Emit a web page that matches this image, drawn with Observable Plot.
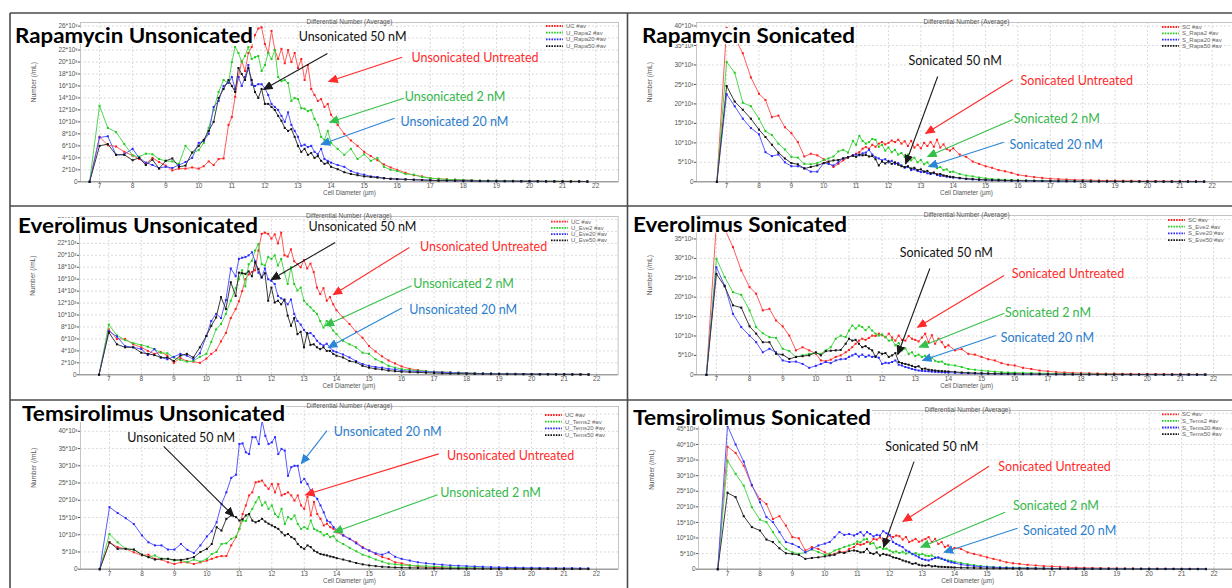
<!DOCTYPE html>
<html><head><meta charset="utf-8">
<script src="https://cdn.jsdelivr.net/npm/d3@7"></script>
<script src="https://cdn.jsdelivr.net/npm/@observablehq/plot@0.6"></script>
<style>
html,body{margin:0;padding:0;background:#fff;}
#page{position:relative;width:1232px;height:588px;overflow:hidden;background:#fff;}
</style></head><body><div id="page"></div>
<script>
// ---------- shared x grid: cell diameter (µm) ----------
const diameters = [
  6.7, 7, 7.25, 7.5, 7.75, 8, 8.2, 8.4, 8.6, 8.8, 9, 9.2, 9.4, 9.6, 9.8,
  10, 10.15, 10.3, 10.45, 10.6, 10.75, 10.9,
  11, 11.1, 11.2, 11.3, 11.4, 11.5, 11.6, 11.7, 11.8, 11.9,
  12, 12.1, 12.2, 12.3, 12.4, 12.5, 12.6, 12.7, 12.8, 12.9,
  13, 13.1, 13.2, 13.3, 13.4, 13.5, 13.6, 13.7, 13.8, 13.9, 14,
  14.2, 14.4, 14.6, 14.8, 15, 15.2, 15.4, 15.6, 15.8, 16,
  16.25, 16.5, 16.75, 17, 17.25, 17.5, 17.75, 18, 18.25, 18.5, 18.75, 19, 19.25, 19.5, 19.75, 20, 20.25, 20.5, 20.75, 21, 21.25, 21.5, 21.75
];

// ---------- tick values ----------
const xTicks = [7, 8, 9, 10, 11, 12, 13, 14, 15, 16, 17, 18, 19, 20, 21, 22];
const yTicks26 = [0, 2, 4, 6, 8, 10, 12, 14, 16, 18, 20, 22, 24, 26];
const yTicks40 = [0, 5, 10, 15, 20, 25, 30, 35, 40];
const yTicks45 = [0, 5, 10, 15, 20, 25, 30, 35, 40, 45];
const yTicks50 = [0, 5, 10, 15, 20, 25, 30, 35, 40, 45, 50];

// ---------- series values (Number / mL, in thousands) ----------
// Rapamycin Unsonicated
const uRapaUC = [
  0, 7.5, 6.1, 5.9, 5.0, 4.4, 3.8, 3.0, 4.0, 3.3, 2.7, 1.9, 2.2, 2.2, 2.4,
  2.2, 2.6, 3.4, 2.8, 3.8, 3.9, 9.5,
  10.8, 14.2, 17.5, 20.2, 18.5, 21.5, 22.5, 24.5, 25.6, 25.8,
  23.0, 21.5, 25.2, 22.0, 20.5, 22.2, 19.8, 22.0, 20.0, 21.5,
  19.0, 20.5, 17.0, 19.5, 15.5, 14.5, 13.5, 13.8, 12.5, 13.0, 11.2,
  9.5, 8.0, 6.9, 6.0, 5.0, 4.3, 3.6, 2.9, 2.4, 2.0,
  1.5, 1.1, 0.9, 0.6, 0.5, 0.4, 0.35, 0.3, 0.25, 0.2, 0.2, 0.18, 0.15, 0.15, 0.12, 0.12, 0.1, 0.1, 0.1, 0.08, 0.08, 0.08, 0.05
];
const uRapa2 = [
  0, 12.7, 9.0, 8.3, 6.3, 4.4, 4.2, 4.7, 4.6, 3.8, 3.5, 3.4, 3.0, 6.0, 4.8,
  5.3, 6.5, 9.0, 12.0, 15.0, 17.0, 16.5,
  20.0, 22.5, 21.5, 20.0, 21.0, 22.5, 20.5, 20.8, 21.0, 18.5,
  19.5, 21.5, 20.5, 22.0, 17.5, 16.8, 17.0, 16.5, 13.5, 14.0,
  13.8, 12.3, 12.2, 11.8, 12.0, 10.5, 9.5, 7.5, 7.0, 8.5, 6.5,
  5.5, 4.5, 5.5, 3.8, 4.6, 3.5, 4.0, 2.5, 2.0, 1.8,
  1.3, 1.2, 0.8, 0.6, 0.5, 0.4, 0.35, 0.3, 0.25, 0.2, 0.2, 0.18, 0.15, 0.15, 0.12, 0.12, 0.1, 0.1, 0.1, 0.08, 0.08, 0.08, 0.05
];
const uRapa20 = [
  0, 7.4, 7.6, 4.5, 4.6, 5.5, 4.0, 3.2, 2.8, 2.3, 2.5, 2.3, 2.8, 3.3, 4.0,
  6.5, 6.8, 8.0, 12.5, 13.5, 16.0, 16.5,
  17.5, 15.5, 17.5, 16.0, 17.5, 19.5, 16.2, 16.0, 16.3, 16.3,
  15.6, 14.5, 13.0, 12.5, 12.0, 11.0, 10.0, 11.6, 9.5, 8.5,
  7.5, 6.0, 6.2, 5.8, 6.0, 5.0, 4.6, 5.5, 3.8, 3.5, 3.2,
  2.8, 2.5, 1.8, 1.4, 1.2, 0.9, 0.8, 0.6, 0.5, 0.45,
  0.4, 0.35, 0.3, 0.25, 0.2, 0.2, 0.18, 0.15, 0.15, 0.12, 0.12, 0.1, 0.1, 0.1, 0.08, 0.08, 0.08, 0.06, 0.06, 0.05, 0.05, 0.05, 0.04
];
const uRapa50 = [
  0, 6.0, 6.3, 4.5, 4.5, 3.6, 4.0, 2.8, 3.7, 2.2, 3.5, 3.9, 2.5, 2.7, 4.9,
  6.0, 7.0, 8.5, 10.0, 14.0, 15.5, 17.0,
  16.0, 15.0, 19.0, 18.0, 17.0, 19.0, 17.0, 15.0, 14.0, 15.5,
  13.0, 13.0, 12.5, 12.0, 11.0, 10.2, 9.0, 8.5, 8.8, 7.5,
  6.0, 5.0, 5.5, 4.5, 4.8, 4.0, 4.3, 3.5, 3.0, 3.2, 2.5,
  2.1, 1.6, 1.3, 1.1, 0.9, 0.8, 0.7, 0.6, 0.5, 0.45,
  0.4, 0.35, 0.3, 0.25, 0.2, 0.2, 0.18, 0.15, 0.15, 0.12, 0.12, 0.1, 0.1, 0.1, 0.08, 0.08, 0.08, 0.06, 0.06, 0.05, 0.05, 0.05, 0.04
];
// Rapamycin Sonicated
const sRapaSC = [
  0, 39.5, 37.0, 33.0, 26.8, 22.6, 21.0, 16.6, 17.0, 14.0, 12.5, 10.2, 6.5, 7.2, 6.8,
  5.8, 4.8, 3.8, 4.6, 5.5, 6.2, 6.8,
  7.2, 7.6, 8.5, 8.9, 8.5, 9.5, 9.0, 9.8, 10.2, 9.6,
  10.0, 10.6, 10.2, 10.8, 9.8, 10.4, 9.2, 10.5, 8.8, 9.5,
  8.6, 10.0, 9.2, 10.2, 9.0, 10.8, 8.8, 9.6, 8.4, 8.0, 8.6,
  7.0, 6.4, 5.2, 4.6, 4.0, 3.6, 3.0, 2.7, 2.3, 1.8,
  1.5, 1.2, 1.0, 0.8, 0.7, 0.6, 0.5, 0.45, 0.4, 0.35, 0.3, 0.3, 0.25, 0.25, 0.2, 0.2, 0.2, 0.18, 0.15, 0.15, 0.15, 0.12, 0.12
];
const sRapa2 = [
  0, 30.8, 28.0, 20.3, 19.4, 16.2, 13.0, 12.0, 9.8, 8.3, 6.4, 6.2, 4.6, 4.5, 4.8,
  5.6, 6.0, 6.5, 7.8, 8.2, 7.5, 10.5,
  9.5, 11.8, 10.5, 9.8, 10.2, 11.0, 10.8, 9.0, 9.5, 8.0,
  8.8, 7.6, 8.2, 7.0, 7.4, 6.4, 7.0, 5.5, 6.2, 5.0,
  5.6, 4.5, 5.0, 4.0, 4.6, 3.5, 3.8, 3.0, 3.2, 2.5, 2.6,
  2.0, 1.6, 1.4, 1.1, 0.9, 0.7, 0.6, 0.5, 0.45, 0.4,
  0.35, 0.3, 0.3, 0.25, 0.2, 0.2, 0.18, 0.15, 0.15, 0.12, 0.12, 0.1, 0.1, 0.1, 0.08, 0.08, 0.08, 0.06, 0.06, 0.05, 0.05, 0.05, 0.04
];
const sRapa20 = [
  0, 22.5, 19.4, 16.2, 13.8, 12.2, 7.6, 6.6, 7.0, 5.0, 4.0, 4.0, 3.5, 2.6, 2.6,
  4.8, 4.6, 4.2, 5.0, 6.0, 6.3, 6.8,
  7.0, 6.8, 7.3, 7.5, 8.2, 7.0, 6.3, 6.0, 5.5, 5.8,
  5.0, 5.4, 4.6, 4.8, 4.2, 3.6, 3.8, 3.0, 3.2, 2.8,
  2.5, 2.6, 2.2, 2.0, 2.2, 1.8, 1.5, 1.6, 1.3, 1.2, 1.1,
  0.9, 0.7, 0.6, 0.5, 0.45, 0.4, 0.35, 0.3, 0.3, 0.25,
  0.25, 0.2, 0.2, 0.18, 0.15, 0.15, 0.12, 0.12, 0.1, 0.1, 0.1, 0.08, 0.08, 0.08, 0.06, 0.06, 0.05, 0.05, 0.05, 0.04, 0.04, 0.04, 0.03
];
const sRapa50 = [
  0, 24.6, 20.6, 18.5, 16.2, 13.4, 11.5, 9.5, 7.5, 6.0, 4.8, 4.5, 3.4, 3.8, 4.2,
  4.8, 5.2, 5.5, 5.6, 6.0, 6.3, 6.7,
  6.4, 7.0, 6.8, 6.9, 6.5, 6.6, 5.8, 4.2, 5.2, 4.7,
  5.3, 4.6, 5.0, 4.4, 4.0, 3.8, 4.0, 3.4, 3.6, 3.0,
  3.2, 2.6, 2.8, 2.2, 2.4, 1.9, 2.0, 1.6, 1.5, 1.3, 1.2,
  1.0, 0.8, 0.7, 0.6, 0.5, 0.45, 0.4, 0.35, 0.3, 0.3,
  0.25, 0.25, 0.2, 0.2, 0.18, 0.15, 0.15, 0.12, 0.12, 0.1, 0.1, 0.1, 0.08, 0.08, 0.08, 0.06, 0.06, 0.05, 0.05, 0.05, 0.04, 0.04, 0.03
];
// Everolimus Unsonicated
const uEveUC = [
  0, 7.6, 6.0, 6.0, 5.1, 4.6, 4.0, 3.5, 3.8, 3.2, 2.0, 2.8, 2.3, 2.2, 2.0,
  2.7, 3.5, 4.1, 5.6, 7.0, 9.5, 11.0,
  12.3, 14.0, 16.0, 16.8, 17.2, 17.5, 20.8, 23.6, 23.8, 23.6,
  22.8, 23.5, 22.0, 23.8, 20.0, 19.8, 21.0, 19.0, 18.5, 18.0,
  19.2, 17.8, 18.6, 17.2, 14.6, 13.5, 14.5, 12.4, 13.0, 11.8, 10.8,
  9.6, 8.5, 7.2, 6.2, 4.8, 3.9, 3.1, 2.4, 1.9, 1.4,
  1.0, 0.8, 0.6, 0.5, 0.45, 0.4, 0.35, 0.3, 0.25, 0.2, 0.2, 0.18, 0.15, 0.15, 0.12, 0.12, 0.1, 0.1, 0.1, 0.08, 0.08, 0.08, 0.05
];
const uEve2 = [
  0, 8.4, 6.6, 5.8, 5.3, 5.0, 4.7, 4.3, 3.7, 3.6, 2.9, 2.5, 2.2, 2.3, 3.0,
  3.5, 5.5, 7.6, 8.5, 10.2, 12.4, 14.5,
  16.0, 17.5, 14.8, 18.5, 19.1, 20.8, 21.9, 18.5, 18.3, 19.7,
  19.4, 20.0, 18.3, 19.4, 17.1, 15.2, 18.0, 15.2, 14.1, 14.6,
  12.4, 11.8, 11.3, 10.7, 10.2, 9.0, 7.9, 9.0, 8.2, 7.4, 6.8,
  5.7, 5.1, 4.6, 3.7, 3.5, 2.6, 2.1, 1.5, 1.2, 0.95,
  0.8, 0.7, 0.6, 0.5, 0.45, 0.4, 0.35, 0.3, 0.25, 0.2, 0.2, 0.18, 0.15, 0.15, 0.12, 0.12, 0.1, 0.1, 0.1, 0.08, 0.08, 0.08, 0.05
];
const uEve20 = [
  0, 7.3, 6.4, 4.8, 4.6, 4.3, 3.3, 4.3, 2.9, 2.6, 3.0, 3.5, 3.2, 2.6, 3.6,
  6.5, 9.0, 10.2, 9.5, 12.5, 17.8, 16.5,
  19.4, 19.6, 19.7, 20.0, 20.5, 19.0, 17.1, 16.3, 17.8, 16.0,
  15.7, 15.2, 13.2, 12.8, 12.4, 11.8, 12.6, 10.2, 9.0, 8.4,
  7.5, 6.8, 7.0, 6.5, 5.7, 5.2, 4.9, 5.2, 4.6, 4.0, 3.8,
  3.4, 2.9, 2.3, 1.8, 1.5, 1.3, 1.2, 1.0, 0.9, 0.7,
  0.6, 0.55, 0.5, 0.45, 0.4, 0.35, 0.3, 0.25, 0.2, 0.2, 0.18, 0.15, 0.15, 0.12, 0.12, 0.1, 0.1, 0.1, 0.08, 0.08, 0.08, 0.06, 0.05
];
const uEve50 = [
  0, 7.1, 5.1, 4.6, 4.6, 3.7, 3.5, 3.3, 2.9, 2.9, 2.3, 3.2, 3.5, 2.9, 4.6,
  6.5, 8.2, 9.6, 13.0, 11.0, 15.5, 13.2,
  17.1, 17.0, 16.9, 17.3, 16.5, 18.8, 17.7, 16.3, 17.0, 12.4,
  14.6, 12.1, 12.4, 11.8, 12.6, 9.9, 8.2, 9.5, 6.8, 7.2,
  4.6, 7.0, 5.0, 5.1, 4.6, 4.3, 4.6, 4.0, 4.0, 3.5, 3.2,
  2.9, 2.3, 2.1, 1.5, 1.2, 1.0, 0.9, 0.7, 0.6, 0.5,
  0.45, 0.4, 0.35, 0.3, 0.25, 0.2, 0.2, 0.18, 0.15, 0.15, 0.12, 0.12, 0.1, 0.1, 0.1, 0.08, 0.08, 0.08, 0.06, 0.06, 0.05, 0.05, 0.04
];
// Everolimus Sonicated
const sEveSC = [
  0, 39.0, 37.6, 32.9, 26.9, 22.6, 20.9, 16.6, 17.0, 14.0, 12.5, 10.1, 6.3, 7.1, 6.3,
  5.4, 3.7, 3.5, 3.9, 4.6, 5.0, 5.8,
  6.4, 7.1, 8.0, 8.8, 9.3, 9.0, 9.5, 10.1, 10.0, 10.6,
  10.2, 9.7, 10.6, 9.6, 8.8, 10.1, 9.0, 8.8, 10.0, 9.3,
  9.0, 8.6, 9.6, 10.6, 8.4, 10.2, 8.0, 9.3, 8.4, 7.1, 7.6,
  6.3, 6.6, 5.4, 5.2, 4.6, 4.0, 3.7, 3.0, 2.6, 2.4,
  1.8, 1.5, 1.1, 0.9, 0.7, 0.6, 0.5, 0.45, 0.4, 0.35, 0.3, 0.3, 0.25, 0.25, 0.2, 0.2, 0.2, 0.18, 0.15, 0.15, 0.15, 0.12, 0.12
];
const sEve2 = [
  0, 29.9, 25.2, 21.3, 20.6, 16.6, 12.3, 10.7, 9.7, 9.5, 6.7, 6.1, 4.6, 5.0, 5.4,
  5.6, 5.4, 6.3, 7.1, 9.3, 10.1, 9.7,
  11.4, 12.7, 11.9, 12.7, 12.3, 11.5, 12.3, 11.4, 10.6, 10.1,
  10.4, 9.7, 8.8, 9.0, 7.6, 8.2, 6.3, 6.8, 5.4, 5.8,
  4.8, 5.2, 4.6, 4.9, 4.2, 4.4, 3.6, 3.3, 3.4, 2.8, 2.6,
  2.4, 2.0, 1.5, 1.3, 1.1, 0.95, 0.8, 0.7, 0.6, 0.55,
  0.5, 0.45, 0.4, 0.35, 0.3, 0.25, 0.2, 0.2, 0.18, 0.15, 0.15, 0.12, 0.12, 0.1, 0.1, 0.1, 0.08, 0.08, 0.08, 0.06, 0.06, 0.05, 0.05
];
const sEve20 = [
  0, 27.7, 23.0, 15.7, 12.3, 10.1, 8.4, 5.8, 6.7, 5.8, 3.7, 3.3, 3.4, 2.8, 1.8,
  2.3, 2.8, 3.3, 3.0, 3.7, 4.0, 4.1,
  4.6, 5.0, 5.4, 4.7, 5.2, 4.6, 5.0, 4.6, 4.8, 4.4,
  2.8, 3.1, 3.0, 3.3, 3.7, 2.6, 2.4, 2.0, 1.8, 1.5,
  1.3, 1.1, 1.0, 0.95, 0.9, 0.8, 0.75, 0.7, 0.65, 0.6, 0.55,
  0.5, 0.45, 0.4, 0.35, 0.3, 0.3, 0.25, 0.25, 0.2, 0.2,
  0.18, 0.15, 0.15, 0.12, 0.12, 0.1, 0.1, 0.1, 0.08, 0.08, 0.08, 0.06, 0.06, 0.05, 0.05, 0.05, 0.04, 0.04, 0.04, 0.03, 0.03, 0.03, 0.02
];
const sEve50 = [
  0, 26.0, 22.8, 17.9, 17.3, 12.5, 10.6, 8.4, 8.4, 5.4, 5.2, 4.1, 4.6, 4.8, 5.0,
  5.8, 5.0, 6.1, 6.2, 6.3, 6.4, 8.0,
  9.3, 8.8, 9.0, 8.0, 7.1, 7.4, 6.8, 6.3, 4.6, 5.8,
  5.4, 5.6, 4.6, 5.0, 5.6, 3.3, 3.0, 2.8, 2.6, 2.3,
  2.0, 2.2, 1.5, 1.6, 1.3, 1.2, 1.1, 1.0, 0.95, 0.9, 0.85,
  0.75, 0.6, 0.5, 0.45, 0.4, 0.35, 0.3, 0.3, 0.25, 0.25,
  0.2, 0.2, 0.18, 0.15, 0.15, 0.12, 0.12, 0.1, 0.1, 0.1, 0.08, 0.08, 0.08, 0.06, 0.06, 0.05, 0.05, 0.05, 0.04, 0.04, 0.04, 0.03, 0.03
];
// Temsirolimus Unsonicated
const uTemsUC = [
  0, 7.8, 6.4, 5.9, 4.9, 4.0, 4.2, 3.0, 2.8, 2.0, 1.5, 2.0, 2.0, 1.5, 2.0,
  2.5, 3.0, 3.5, 3.8, 3.8, 6.9, 9.3,
  11.7, 16.0, 18.5, 21.4, 22.3, 25.2, 25.4, 25.7, 24.3, 23.3,
  24.7, 22.3, 24.7, 21.4, 21.8, 22.3, 21.4, 19.9, 21.4, 18.5,
  17.5, 21.0, 15.6, 19.5, 16.0, 14.6, 12.7, 13.2, 12.2, 11.7, 10.7,
  9.8, 8.8, 7.8, 6.4, 5.4, 4.4, 3.5, 3.0, 2.0, 1.7,
  1.1, 0.8, 0.6, 0.5, 0.45, 0.4, 0.35, 0.3, 0.25, 0.2, 0.2, 0.18, 0.15, 0.15, 0.12, 0.12, 0.1, 0.1, 0.1, 0.08, 0.08, 0.08, 0.05
];
const uTems2 = [
  0, 10.2, 7.8, 5.9, 5.7, 4.2, 3.5, 4.0, 3.0, 3.0, 2.5, 2.6, 2.0, 2.8, 2.2,
  3.0, 4.4, 5.0, 7.3, 7.5, 8.8, 9.5,
  11.7, 14.1, 14.0, 16.0, 17.5, 19.4, 20.9, 18.5, 19.4, 17.5,
  18.5, 16.0, 15.1, 17.5, 13.1, 15.1, 14.5, 15.6, 13.1, 11.7,
  12.2, 11.7, 14.1, 11.7, 11.2, 10.8, 9.8, 10.2, 9.3, 9.6, 8.3,
  7.3, 6.2, 5.2, 4.2, 3.6, 2.8, 2.2, 1.6, 1.4, 1.2,
  1.1, 1.0, 0.9, 0.8, 0.7, 0.6, 0.5, 0.45, 0.4, 0.35, 0.3, 0.3, 0.25, 0.25, 0.2, 0.2, 0.2, 0.18, 0.15, 0.15, 0.12, 0.12, 0.1
];
const uTems20 = [
  0, 18.0, 16.3, 14.8, 13.1, 9.8, 7.8, 6.9, 6.9, 5.7, 5.7, 7.3, 5.6, 4.7, 6.9,
  9.5, 11.0, 13.6, 18.9, 22.3, 26.5, 27.4,
  36.3, 36.5, 33.9, 33.4, 38.3, 38.3, 36.3, 43.1, 38.7, 36.3,
  36.8, 38.3, 33.4, 34.9, 34.4, 27.1, 29.6, 30.0, 30.0, 25.2,
  26.2, 24.7, 22.8, 21.4, 20.4, 18.5, 16.5, 14.1, 13.6, 12.2, 11.4,
  9.8, 8.8, 7.5, 6.2, 5.4, 4.6, 4.2, 4.9, 3.6, 3.0,
  2.5, 2.0, 1.7, 1.5, 1.3, 1.1, 1.0, 0.9, 0.8, 0.7, 0.6, 0.55, 0.5, 0.45, 0.4, 0.4, 0.35, 0.35, 0.3, 0.3, 0.3, 0.25, 0.25
];
const uTems50 = [
  0, 7.8, 5.9, 5.9, 5.7, 4.2, 3.5, 2.8, 3.0, 3.0, 2.7, 2.7, 3.0, 3.5, 5.0,
  5.9, 7.3, 12.2, 11.2, 14.6, 15.6, 15.1,
  14.1, 14.5, 15.6, 16.0, 14.1, 13.6, 14.0, 14.6, 13.8, 13.2,
  12.7, 12.2, 11.7, 10.7, 9.8, 10.2, 9.3, 8.8, 7.3, 6.4,
  5.9, 6.9, 6.4, 5.4, 4.9, 4.4, 4.2, 4.0, 3.7, 3.5, 3.2,
  2.8, 2.3, 1.8, 1.4, 1.1, 0.9, 0.7, 0.6, 0.5, 0.45,
  0.4, 0.35, 0.3, 0.25, 0.2, 0.2, 0.18, 0.15, 0.15, 0.12, 0.12, 0.1, 0.1, 0.1, 0.08, 0.08, 0.08, 0.06, 0.06, 0.05, 0.05, 0.05, 0.04
];
// Temsirolimus Sonicated
const sTemsSC = [
  0, 39.3, 37.3, 33.2, 26.8, 22.5, 20.9, 16.1, 17.0, 14.0, 10.3, 9.9, 6.0, 7.1, 6.5,
  5.4, 4.6, 4.9, 5.7, 5.4, 6.5, 7.1,
  8.1, 7.8, 8.1, 8.7, 8.5, 9.7, 9.5, 10.2, 9.0, 9.7,
  10.8, 10.3, 10.8, 10.6, 9.5, 10.3, 8.7, 9.2, 9.7, 8.8,
  9.2, 9.7, 10.3, 8.7, 9.7, 8.1, 8.7, 7.1, 7.6, 6.5, 6.8,
  6.5, 5.4, 4.9, 4.4, 3.8, 3.3, 2.8, 2.2, 1.9, 1.7,
  1.4, 1.2, 1.0, 0.9, 0.75, 0.6, 0.5, 0.45, 0.4, 0.35, 0.3, 0.3, 0.25, 0.25, 0.2, 0.2, 0.2, 0.18, 0.15, 0.15, 0.15, 0.12, 0.12
];
const sTems2 = [
  0, 34.8, 30.6, 26.8, 19.9, 15.9, 15.1, 11.9, 8.7, 6.5, 5.4, 4.9, 5.4, 6.3, 5.5,
  4.6, 5.0, 6.0, 6.5, 7.1, 7.6, 8.1,
  8.9, 8.6, 9.5, 9.7, 8.1, 8.4, 6.7, 7.1, 6.5, 6.6,
  6.0, 5.4, 5.7, 5.2, 5.6, 5.0, 5.4, 4.8, 5.2, 4.6,
  4.9, 4.4, 4.2, 4.4, 3.8, 3.6, 3.3, 3.0, 2.8, 2.6, 2.4,
  2.0, 1.6, 1.3, 1.0, 0.85, 0.7, 0.6, 0.55, 0.5, 0.45,
  0.4, 0.35, 0.3, 0.25, 0.2, 0.2, 0.18, 0.15, 0.15, 0.12, 0.12, 0.1, 0.1, 0.1, 0.08, 0.08, 0.08, 0.06, 0.06, 0.05, 0.05, 0.05, 0.04
];
const sTems20 = [
  0, 46.0, 40.0, 34.5, 27.0, 21.5, 16.7, 15.1, 11.9, 8.7, 8.1, 7.1, 5.4, 6.5, 7.6,
  8.2, 8.7, 10.3, 11.9, 11.0, 11.3, 10.8,
  11.3, 11.9, 10.8, 11.9, 11.3, 10.5, 11.0, 10.8, 12.2, 11.5,
  11.0, 8.7, 8.1, 7.6, 7.1, 6.0, 5.6, 4.9, 4.4, 3.8,
  3.3, 3.0, 2.8, 3.2, 3.6, 3.8, 3.4, 3.0, 2.5, 2.2, 2.0,
  1.5, 1.2, 1.0, 0.8, 0.7, 0.6, 0.5, 0.45, 0.4, 0.35,
  0.3, 0.3, 0.25, 0.25, 0.2, 0.2, 0.2, 0.18, 0.15, 0.15, 0.15, 0.12, 0.12, 0.1, 0.1, 0.1, 0.08, 0.08, 0.08, 0.06, 0.06, 0.05, 0.05
];
const sTems50 = [
  0, 24.5, 23.1, 17.0, 13.5, 12.4, 9.5, 8.7, 6.7, 5.1, 4.9, 4.6, 3.3, 3.6, 3.8,
  4.1, 4.4, 4.6, 5.4, 5.2, 5.8, 6.0,
  5.8, 5.4, 5.5, 6.5, 5.2, 4.9, 5.4, 4.4, 4.9, 4.6,
  4.4, 3.8, 3.6, 3.3, 2.8, 2.5, 2.2, 1.7, 1.9, 1.4,
  1.2, 1.1, 1.3, 0.9, 1.0, 0.8, 0.75, 0.7, 0.65, 0.6, 0.55,
  0.5, 0.45, 0.4, 0.35, 0.3, 0.3, 0.25, 0.25, 0.2, 0.2,
  0.18, 0.15, 0.15, 0.12, 0.12, 0.1, 0.1, 0.1, 0.08, 0.08, 0.08, 0.06, 0.06, 0.05, 0.05, 0.05, 0.04, 0.04, 0.04, 0.03, 0.03, 0.03, 0.02
];

// ---------- legend names ----------
const legendRapaU = ["UC #av", "U_Rapa2 #av", "U_Rapa20 #av", "U_Rapa50 #av"];
const legendRapaS = ["SC #av", "S_Rapa2 #av", "S_Rapa20 #av", "S_Rapa50 #av"];
const legendEveU = ["UC #av", "U_Eve2 #av", "U_Eve20 #av", "U_Eve50 #av"];
const legendEveS = ["SC #av", "S_Eve2 #av", "S_Eve20 #av", "S_Eve50 #av"];
const legendTemsU = ["UC #av", "U_Tems2 #av", "U_Tems20 #av", "U_Tems50 #av"];
const legendTemsS = ["SC #av", "S_Tems2 #av", "S_Tems20 #av", "S_Tems50 #av"];

// ---------- annotations (data units: diameter, thousands/mL) ----------
const notesRapaU = [
  {t: "Unsonicated 50 nM", d: 13.02, v: 24.26, c: "k"},
  {t: "Unsonicated Untreated", d: 16.43, v: 20.7, c: "r"},
  {t: "Unsonicated 2 nM", d: 16.23, v: 14.24, c: "g"},
  {t: "Unsonicated 20 nM", d: 16.10, v: 9.95, c: "b"}
];
const arrowsRapaU = [
  {d1: 13.89, v1: 21.42, d2: 11.96, v2: 15.41, c: "k"},
  {d1: 16.15, v1: 20.8, d2: 13.93, v2: 16.74, c: "r"},
  {d1: 16.20, v1: 13.96, d2: 13.96, v2: 9.95, c: "g"},
  {d1: 15.92, v1: 10.62, d2: 13.70, v2: 6.23, c: "b"}
];
const notesRapaS = [
  {t: "Sonicated 50 nM", d: 12.62, v: 31.14, c: "k"},
  {t: "Sonicated Untreated", d: 16.08, v: 25.83, c: "r"},
  {t: "Sonicated 2 nM", d: 15.87, v: 16.17, c: "g"},
  {t: "Sonicated 20 nM", d: 15.74, v: 9.32, c: "b"}
];
const arrowsRapaS = [
  {d1: 13.52, v1: 27.03, d2: 12.53, v2: 4.62, c: "k"},
  {d1: 15.84, v1: 26.19, d2: 13.15, v2: 12.4, c: "r"},
  {d1: 15.84, v1: 16.0, d2: 13.21, v2: 6.5, c: "g"},
  {d1: 15.56, v1: 10.17, d2: 13.24, v2: 3.93, c: "b"}
];
const notesEveU = [
  {t: "Unsonicated 50 nM", d: 13.14, v: 24.79, c: "k"},
  {t: "Unsonicated Untreated", d: 16.57, v: 21.32, c: "r"},
  {t: "Unsonicated 2 nM", d: 16.36, v: 15.19, c: "g"},
  {t: "Unsonicated 20 nM", d: 16.24, v: 10.84, c: "b"}
];
const arrowsEveU = [
  {d1: 13.96, v1: 22.16, d2: 11.99, v2: 15.91, c: "k"},
  {d1: 16.24, v1: 21.32, d2: 13.90, v2: 13.4, c: "r"},
  {d1: 16.31, v1: 14.91, d2: 13.65, v2: 8.21, c: "g"},
  {d1: 16.01, v1: 11.17, d2: 13.75, v2: 4.57, c: "b"}
];
const notesEveS = [
  {t: "Sonicated 50 nM", d: 12.53, v: 31.34, c: "k"},
  {t: "Sonicated Untreated", d: 15.91, v: 25.85, c: "r"},
  {t: "Sonicated 2 nM", d: 15.71, v: 15.98, c: "g"},
  {t: "Sonicated 20 nM", d: 15.58, v: 9.54, c: "b"}
];
const arrowsEveS = [
  {d1: 13.44, v1: 27.4, d2: 12.47, v2: 5.23, c: "k"},
  {d1: 15.68, v1: 25.59, d2: 13.07, v2: 12.27, c: "r"},
  {d1: 15.69, v1: 15.88, d2: 13.12, v2: 7.11, c: "g"},
  {d1: 15.43, v1: 10.13, d2: 13.22, v2: 3.69, c: "b"}
];
const notesTemsU = [
  {t: "Unsonicated 50 nM", d: 7.55, v: 37.97, c: "k"},
  {t: "Unsonicated 20 nM", d: 13.91, v: 39.91, c: "b"},
  {t: "Unsonicated Untreated", d: 17.40, v: 32.96, c: "r"},
  {t: "Unsonicated 2 nM", d: 17.19, v: 22.14, c: "g"}
];
const arrowsTemsU = [
  {d1: 8.67, v1: 35.65, d2: 10.83, v2: 15.36, c: "k"},
  {d1: 13.70, v1: 40.2, d2: 12.91, v2: 30.64, c: "b"},
  {d1: 17.14, v1: 33.45, d2: 13.04, v2: 21.57, c: "r"},
  {d1: 17.11, v1: 21.57, d2: 13.91, v2: 10.72, c: "g"}
];
const notesTemsS = [
  {t: "Sonicated 50 nM", d: 11.86, v: 39.33, c: "k"},
  {t: "Sonicated Untreated", d: 15.35, v: 32.69, c: "r"},
  {t: "Sonicated 2 nM", d: 15.80, v: 20.42, c: "g"},
  {t: "Sonicated 20 nM", d: 16.11, v: 12.4, c: "b"}
];
const arrowsTemsS = [
  {d1: 12.75, v1: 34.52, d2: 11.81, v2: 7.05, c: "k"},
  {d1: 15.06, v1: 33.01, d2: 12.41, v2: 15.29, c: "r"},
  {d1: 15.56, v1: 18.27, d2: 12.96, v2: 7.05, c: "g"},
  {d1: 15.94, v1: 13.14, d2: 13.68, v2: 5.45, c: "b"}
];

// ---------- styling ----------
const dotColors = ["#ff1f1f", "#22cc22", "#2a2aff", "#111111"];
const lineColors = ["#ff5a5a", "#4fd84f", "#5a5aff", "#3a3a3a"];
const noteColors = {k: "#111111", r: "#ff2b2b", g: "#35b84a", b: "#2b7dcc"};
const arrowColors = {k: "#1a1a1a", r: "#ff2a2a", g: "#35c04a", b: "#2a86d6"};

// tick labels that sit fully under a pasted panel title (hidden in the source image)
const panels = [
  {key: "tl", title: "Rapamycin Unsonicated", series: [uRapaUC, uRapa2, uRapa20, uRapa50], legend: legendRapaU,
   notes: notesRapaU, arrows: arrowsRapaU, L: 80, T: 22, R: 618, B: 181.3, xDomain: [6.425, 22.69], yDomain: [0, 26.6], yTicks: yTicks26, hidden: [24],
   tBox: {x: 15, base: 43, w: 238}, lg: {x: 546, y: 26, step: 6.7}},
  {key: "tr", title: "Rapamycin Sonicated", series: [sRapaSC, sRapa2, sRapa20, sRapa50], legend: legendRapaS,
   notes: notesRapaS, arrows: arrowsRapaS, L: 696, T: 22, R: 1236, B: 181.3, xDomain: [6.07, 22.75], yDomain: [0, 40.9], yTicks: yTicks40, hidden: [],
   tBox: {x: 642, base: 43, w: 213}, lg: {x: 1162, y: 27, step: 6.3}},
  {key: "ml", title: "Everolimus Unsonicated", series: [uEveUC, uEve2, uEve20, uEve50], legend: legendEveU,
   notes: notesEveU, arrows: arrowsEveU, L: 79.3, T: 215.7, R: 618, B: 374, xDomain: [6.10, 22.66], yDomain: [0, 26.5], yTicks: yTicks26, hidden: [24],
   tBox: {x: 18, base: 233, w: 240}, lg: {x: 551, y: 221.7, step: 6.2}},
  {key: "mr", title: "Everolimus Sonicated", series: [sEveSC, sEve2, sEve20, sEve50], legend: legendEveS,
   notes: notesEveS, arrows: arrowsEveS, L: 695.7, T: 215, R: 1236, B: 374.3, xDomain: [6.40, 22.70], yDomain: [0, 41.05], yTicks: yTicks40, hidden: [],
   tBox: {x: 633, base: 231.5, w: 214}, lg: {x: 1168, y: 220, step: 6.7}},
  {key: "bl", title: "Temsirolimus Unsonicated", series: [uTemsUC, uTems2, uTems20, uTems50], legend: legendTemsU,
   notes: notesTemsU, arrows: arrowsTemsU, L: 80, T: 406, R: 618, B: 568.7, xDomain: [6.107, 22.68], yDomain: [0, 47.2], yTicks: yTicks45, hidden: [45],
   tBox: {x: 22, base: 421, w: 263}, lg: {x: 545, y: 415, step: 6.7}},
  {key: "br", title: "Temsirolimus Sonicated", series: [sTemsSC, sTems2, sTems20, sTems50], legend: legendTemsS,
   notes: notesTemsS, arrows: arrowsTemsS, L: 697.7, T: 410, R: 1236, B: 568.7, xDomain: [6.106, 22.70], yDomain: [0, 50.9], yTicks: yTicks50, hidden: [50],
   tBox: {x: 633, base: 425, w: 238}, lg: {x: 1162, y: 414.3, step: 6.6}}
];

const page = document.getElementById("page");
const NS = "http://www.w3.org/2000/svg";

function addArrowheads(svg, key) {
  const defs = document.createElementNS(NS, "defs");
  svg.insertBefore(defs, svg.firstChild);
  let n = 0;
  svg.querySelectorAll('g[aria-label="link"]').forEach(g => {
    const color = g.getAttribute("stroke") || "#000";
    const id = `ah-${key}-${n++}`;
    const m = document.createElementNS(NS, "marker");
    m.setAttribute("id", id);
    m.setAttribute("viewBox", "0 0 10 10");
    m.setAttribute("refX", "9");
    m.setAttribute("refY", "5");
    m.setAttribute("markerWidth", "10");
    m.setAttribute("markerHeight", "9");
    m.setAttribute("markerUnits", "userSpaceOnUse");
    m.setAttribute("orient", "auto");
    m.setAttribute("preserveAspectRatio", "none");
    const p = document.createElementNS(NS, "path");
    p.setAttribute("d", "M0,0L10,5L0,10Z");
    p.setAttribute("fill", color);
    m.appendChild(p);
    defs.appendChild(m);
    g.querySelectorAll("path, line").forEach(el => el.setAttribute("marker-end", `url(#${id})`));
  });
}

panels.forEach(p => {
  const ml = 70, mr = 2, mt = 14, mb = 22;
  const marks = [
    Plot.ruleX(xTicks, {stroke: "#d2d2d2", strokeWidth: 0.8, strokeDasharray: "2,2"}),
    Plot.ruleY(p.yTicks.filter(t => t > 0), {stroke: "#d2d2d2", strokeWidth: 0.8, strokeDasharray: "2,2"}),
    Plot.frame({stroke: "#c4c4c4"}),
    Plot.ruleY([0], {stroke: "#8a8a8a"}),
    Plot.text(["Differential Number (Average)"], {text: d => d, frameAnchor: "top", dy: -3.5, fontSize: 6.5, fill: "#555"}),
    Plot.text(["Number (/mL)"], {text: d => d, frameAnchor: "left", dx: -47, rotate: -90, fontSize: 6.5, fill: "#555"}),
    Plot.text(["Cell Diameter (µm)"], {text: d => d, frameAnchor: "bottom", dy: 13.5, fontSize: 6.3, fill: "#555"})
  ];
  p.series.forEach((arr, k) => {
    if (arr.length !== diameters.length) throw new Error(`${p.key} series ${k}: ${arr.length} values, expected ${diameters.length}`);
    const rows = arr.map((v, i) => ({d: diameters[i], v}));
    marks.push(Plot.line(rows, {x: "d", y: "v", stroke: lineColors[k], strokeWidth: 1}));
    marks.push(Plot.dot(rows, {x: "d", y: "v", fill: dotColors[k], r: 1.15, symbol: "square"}));
  });
  p.arrows.forEach(a => {
    marks.push(Plot.link([a], {x1: "d1", y1: "v1", x2: "d2", y2: "v2", stroke: arrowColors[a.c], strokeWidth: 1.1}));
  });
  p.notes.forEach(n => {
    marks.push(Plot.text([n], {x: "d", y: "v", text: "t", fill: noteColors[n.c], textAnchor: "start",
      fontSize: 12.5, fontFamily: "Lato, 'Open Sans', sans-serif"}));
  });
  const svg = Plot.plot({
    width: ml + (p.R - p.L) + mr,
    height: mt + (p.B - p.T) + mb,
    marginLeft: ml, marginRight: mr, marginTop: mt, marginBottom: mb,
    x: {domain: p.xDomain, ticks: xTicks, tickFormat: d => String(d), tickSize: 2, tickPadding: 0, label: null},
    y: {domain: p.yDomain, ticks: p.yTicks, tickFormat: d => p.hidden.includes(d) ? "" : (d === 0 ? "0" : `${d}*10³`),
        tickSize: 2, tickPadding: 1, label: null},
    style: {background: "transparent", fontFamily: "'Liberation Sans', Arial, sans-serif", fontSize: "6.5px",
            color: "#555", overflow: "visible", maxWidth: "none"},
    marks
  });
  addArrowheads(svg, p.key);
  const wrap = document.createElement("div");
  wrap.style.position = "absolute";
  wrap.style.left = (p.L - ml) + "px";
  wrap.style.top = (p.T - mt) + "px";
  wrap.appendChild(svg);
  page.appendChild(wrap);
});

// ---------- overlay: panel borders, titles, legends ----------
const ov = d3.select(page).append("svg")
  .attr("width", 1232).attr("height", 588)
  .style("position", "absolute").style("left", "0px").style("top", "0px");

const borders = [
  [10, 13, 1232, 13], [10, 206, 1232, 206], [10, 400, 1232, 400],
  [10, 13, 10, 588], [627.5, 13, 627.5, 588]
];
ov.selectAll("line.border").data(borders).join("line")
  .attr("x1", d => d[0]).attr("y1", d => d[1]).attr("x2", d => d[2]).attr("y2", d => d[3])
  .attr("stroke", "#4a4a4a").attr("stroke-width", 1.6);

panels.forEach(p => {
  const t = p.tBox;
  ov.append("rect").attr("x", t.x - 1).attr("y", t.base - 15).attr("width", t.w + 2).attr("height", 16).attr("fill", "#fff");
  ov.append("text").attr("x", t.x).attr("y", t.base)
    .attr("font-family", "Lato, 'Open Sans', sans-serif").attr("font-weight", 700).attr("font-size", 20)
    .attr("textLength", t.w).attr("lengthAdjust", "spacingAndGlyphs")
    .attr("fill", "#000").text(p.title);
  p.legend.forEach((name, k) => {
    const y = p.lg.y + k * p.lg.step;
    ov.append("line").attr("x1", p.lg.x).attr("x2", p.lg.x + 17).attr("y1", y).attr("y2", y)
      .attr("stroke", dotColors[k]).attr("stroke-width", 1.8).attr("stroke-dasharray", "1.6,1.1");
    ov.append("text").attr("x", p.lg.x + 20).attr("y", y + 2)
      .attr("font-family", "'Liberation Sans', Arial, sans-serif").attr("font-size", 6)
      .attr("fill", "#666").text(name);
  });
});
</script></body></html>
